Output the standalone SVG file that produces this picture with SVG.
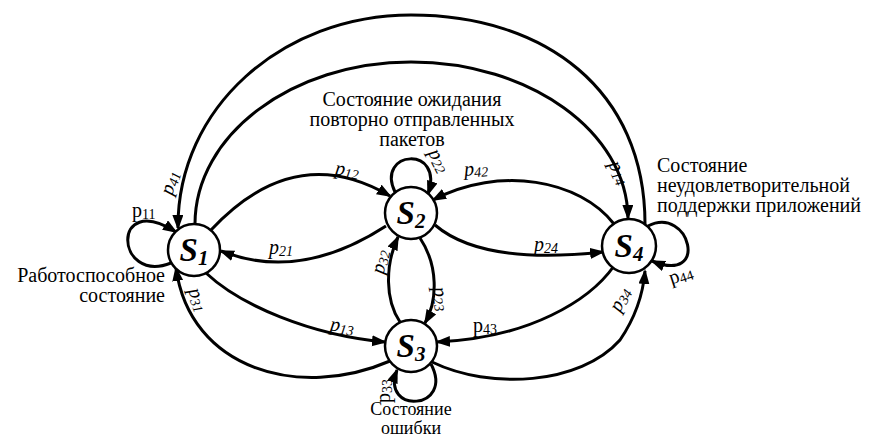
<svg xmlns="http://www.w3.org/2000/svg" width="874" height="439" viewBox="0 0 874 439">
<defs>
<marker id="ah" markerUnits="userSpaceOnUse" markerWidth="16" markerHeight="12" refX="13" refY="5.5" orient="auto">
<path d="M0,0 L15,5.5 L0,11 z" fill="#000"/>
</marker>
</defs>
<style>
.e{fill:none;stroke:#000;stroke-width:3;marker-end:url(#ah)}
.n{fill:#fff;stroke:#000;stroke-width:2.5}
.t{font-family:"Liberation Serif","Times New Roman",serif;font-size:20px;fill:#000}
.b{font-size:18px}
.p{font-family:"Liberation Serif","Times New Roman",serif;font-size:20px;font-style:italic;fill:#000}
.u{font-style:normal}
.s{font-size:14px}
.nl{font-family:"Liberation Serif","Times New Roman",serif;font-size:33px;font-weight:bold;font-style:italic;fill:#000}
.ns{font-size:21px}
</style>
<g id="connectors">
<path id="e11" class="e" d="M171,263 C115,285 110,190 176,232"/>
<path id="e12" class="e" d="M211,230 Q295,140 390,196"/>
<path id="e21" class="e" d="M386,226 Q300,282 221,251"/>
<path id="e13" class="e" d="M206,273 C240,305 310,335 385,342"/>
<path id="e31" class="e" d="M390,361 C300,400 190,370 176,268"/>
<path id="e22" class="e" d="M395,192 C375,150 445,145 428,194"/>
<path id="e23" class="e" d="M420,238 C438,265 438,300 425,323"/>
<path id="e32" class="e" d="M400,322 C385,300 385,265 398,237"/>
<path id="e24" class="e" d="M435,225 C470,255 530,260 603,252"/>
<path id="e42" class="e" d="M614,224 C580,180 500,165 433,200"/>
<path id="e43" class="e" d="M614,266 C590,300 530,338 437,342"/>
<path id="e34" class="e" d="M432,362 C490,390 580,385 620,340 C635,318 643,295 645,271"/>
<path id="e33" class="e" d="M431,364 C455,410 380,415 397,370"/>
<path id="e44" class="e" d="M648,226 C690,205 710,285 652,261"/>
<path id="e41" class="e" d="M645,224 C645,90 545,15 411,15 C282,15 177,108 178,228"/>
<path id="e14" class="e" d="M195,224 C195,135 292,62 411,62 C530,62 627,132 628,218"/>
</g>
<g id="edge-labels">
<text class="p u" x="132" y="217">p<tspan class="s" dy="2">11</tspan></text>
<text class="p" text-anchor="middle" transform="translate(171,183) rotate(-72)" y="5">p<tspan class="s" dy="2">41</tspan></text>
<text class="p" text-anchor="middle" transform="translate(347,171) rotate(8)" y="5">p<tspan class="s" dy="2">12</tspan></text>
<text class="p" text-anchor="middle" x="281" y="254">p<tspan class="s" dy="2">21</tspan></text>
<text class="p" text-anchor="middle" transform="translate(342,327) rotate(8)" y="5">p<tspan class="s" dy="2">13</tspan></text>
<text class="p" text-anchor="middle" transform="translate(197,300) rotate(70)" y="5">p<tspan class="s" dy="2">31</tspan></text>
<text class="p" text-anchor="middle" transform="translate(438,161) rotate(62)" y="5">p<tspan class="s" dy="2">22</tspan></text>
<text class="p" text-anchor="middle" transform="translate(381,262) rotate(-78)" y="5">p<tspan class="s" dy="2">32</tspan></text>
<text class="p" text-anchor="middle" transform="translate(440,299) rotate(80)" y="5">p<tspan class="s" dy="2">23</tspan></text>
<text class="p" text-anchor="middle" transform="translate(476,170) rotate(-4)" y="5">p<tspan class="s" dy="2">42</tspan></text>
<text class="p" text-anchor="middle" x="546" y="251">p<tspan class="s" dy="2">24</tspan></text>
<text class="p" text-anchor="middle" transform="translate(618,173) rotate(65)" y="5">p<tspan class="s" dy="2">14</tspan></text>
<text class="p u" text-anchor="middle" x="485" y="332">p<tspan class="s" dy="2">43</tspan></text>
<text class="p" text-anchor="middle" transform="translate(621,300) rotate(-62)" y="5">p<tspan class="s" dy="2">34</tspan></text>
<text class="p u" text-anchor="middle" transform="translate(681,276) rotate(-18)" y="5">p<tspan class="s" dy="2">44</tspan></text>
<text class="p u" text-anchor="middle" transform="translate(385,391) rotate(-90)" y="5">p<tspan class="s" dy="2">33</tspan></text>
</g>
<g id="S1"><circle class="n" cx="194" cy="250" r="26"/><text class="nl" text-anchor="middle" x="194" y="261">S<tspan class="ns" dy="4">1</tspan></text></g>
<g id="S2"><circle class="n" cx="411" cy="213" r="26"/><text class="nl" text-anchor="middle" x="411" y="224">S<tspan class="ns" dy="4">2</tspan></text></g>
<g id="S3"><circle class="n" cx="411" cy="346" r="26"/><text class="nl" text-anchor="middle" x="411" y="357">S<tspan class="ns" dy="4">3</tspan></text></g>
<g id="S4"><circle class="n" cx="629" cy="246" r="27"/><text class="nl" text-anchor="middle" x="629" y="257">S<tspan class="ns" dy="4">4</tspan></text></g>
<g id="notes">
<text class="t" text-anchor="middle" x="412" y="106">Состояние ожидания</text>
<text class="t" text-anchor="middle" x="412" y="126">повторно отправленных</text>
<text class="t" text-anchor="middle" x="412" y="146">пакетов</text>
<text class="t" x="657" y="172">Состояние</text>
<text class="t" x="657" y="192">неудовлетворительной</text>
<text class="t" x="657" y="212">поддержки приложений</text>
<text class="t" text-anchor="end" x="165" y="282">Работоспособное</text>
<text class="t" text-anchor="end" x="165" y="302">состояние</text>
<text class="t b" text-anchor="middle" x="411" y="415">Состояние</text>
<text class="t b" text-anchor="middle" x="411" y="434">ошибки</text>
</g>
</svg>
